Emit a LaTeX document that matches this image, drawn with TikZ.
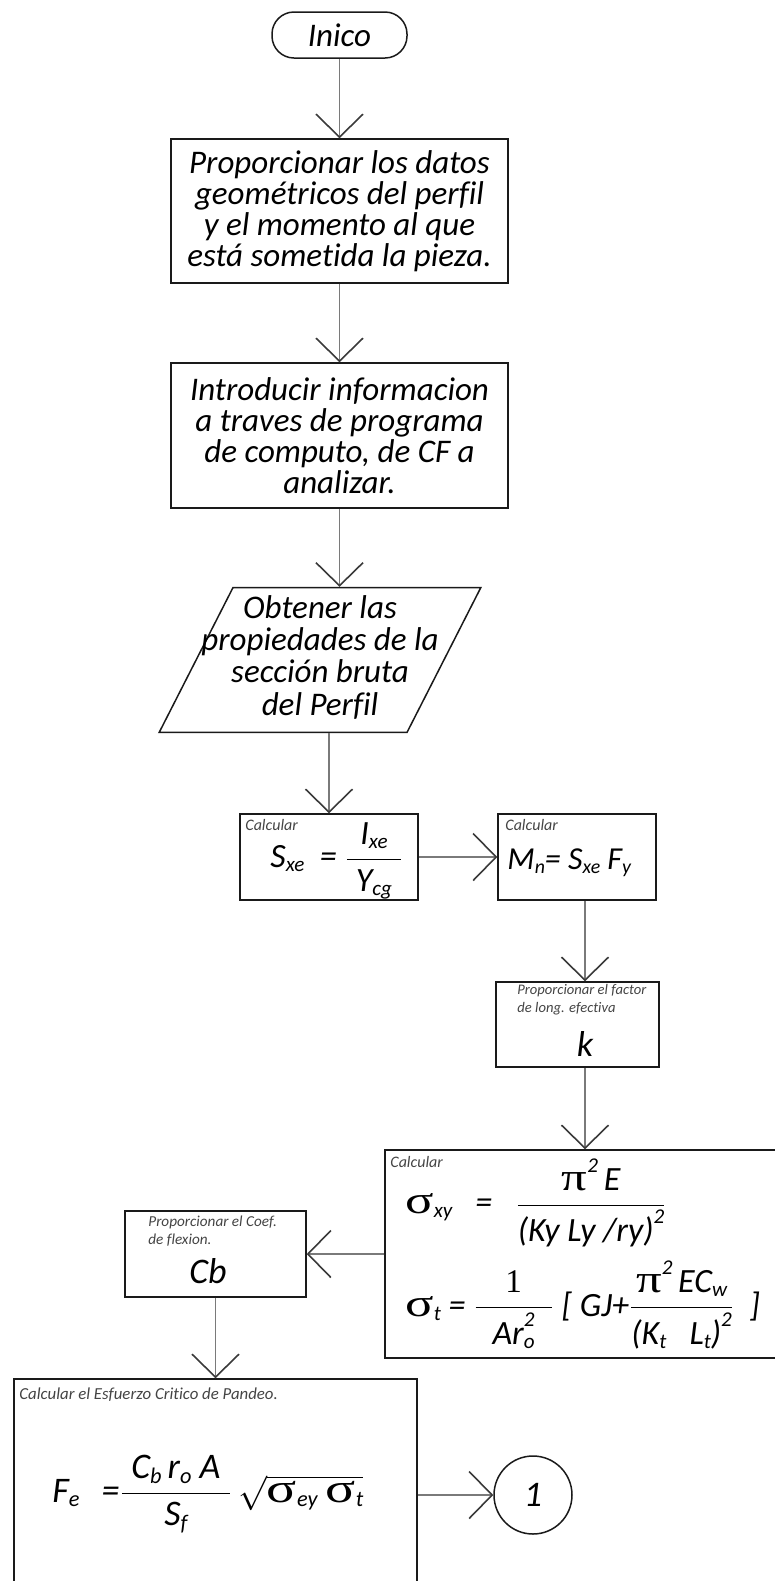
\documentclass[tikz,border=0pt]{standalone}
\usepackage{fontspec}
\usepackage{amsmath}
\usepackage{graphicx}
\setmainfont{Carlito}[Ligatures=NoCommon]
\newfontfamily\grk[Scale=1.15]{Liberation Serif}
\usetikzlibrary{arrows.meta,positioning,shapes.geometric,calc}
\definecolor{ink}{HTML}{1A1A1A}
\definecolor{shaft}{HTML}{7A7A7A}
\definecolor{barb}{HTML}{3A3A3A}
\definecolor{note}{HTML}{444444}
\newcommand{\lsub}[1]{\raisebox{-0.25ex}{\scalebox{0.62}{#1}}}
\newcommand{\lsup}[1]{\raisebox{1.1ex}{\scalebox{0.62}{#1}}}
\newcommand{\sig}{\mbox{\scalebox{1.35}[1]{\grk\upshape σ}}}
\newcommand{\piup}{\mbox{\scalebox{1.3}[1]{\grk\upshape π}}}
\tikzset{
  every node/.style={font=\itshape},
  box/.style={draw=ink, line width=0.75pt, align=center, inner sep=0pt, font=\itshape\fontsize{16.5}{15.5}\selectfont},
  startbox/.style={box, rounded corners=11pt},
  iobox/.style={box, trapezium, trapezium left angle=63, trapezium right angle=117, inner xsep=0pt, inner ysep=4pt},
  connector/.style={circle, draw=ink, line width=0.75pt, inner sep=0pt, minimum size=39pt, font=\itshape\fontsize{18}{18}\selectfont},
  smalllabel/.style={font=\itshape\fontsize{7.3}{9}\selectfont, align=left, inner sep=0pt, text=note},
  formula/.style={font=\itshape\fontsize{17}{20}\selectfont, inner sep=0pt},
  bigletter/.style={font=\itshape\fontsize{18}{20}\selectfont, inner sep=0pt},
  arrow/.style={-{Straight Barb[length=11.5pt,width=23.5pt,line width=0.8pt,color=barb]}, line width=0.8pt, draw=shaft},
}
\begin{document}
\begin{tikzpicture}[x=0.5pt,y=-0.5pt]
\useasboundingbox (0,0) rectangle (775,1581);
\clip (0,0) rectangle (775,1581);
% main column
\node[startbox, minimum width=67.5pt, minimum height=23pt] (inico) at (339.5,35) {Inico};
\node[box, minimum width=168.5pt, minimum height=72pt] (datos) at (339.5,211) {Proporcionar los datos\\geométricos del perfil\\y el momento al que\\está sometida la pieza.};
\node[box, minimum width=168.5pt, minimum height=72.5pt] (intro) at (339.5,435.5) {Introducir informacion\\a traves de programa\\de computo, de CF a\\analizar.};
\node[iobox] (props) at (320,660) {\makebox[87pt]{\begin{tabular}{@{}c@{}}Obtener las\\propiedades de la\\sección bruta\\del Perfil\end{tabular}}};
% Sxe and Mn
\node[box, minimum width=89pt, minimum height=43pt] (sxe) at (329,857) {};
\node[smalllabel, font=\itshape\fontsize{8}{9}\selectfont, anchor=west] (sxelab) at (245,825) {Calcular};
\node[formula, anchor=west] (sxef) at (270,861) {$\mbox{S\lsub{xe}\ \ =\ }\dfrac{\makebox[27pt]{I\lsub{xe}}}{\makebox[27pt]{Y\lsub{cg}}}$};
\node[box, minimum width=79pt, minimum height=43pt] (mn) at (577,857) {};
\node[smalllabel, font=\itshape\fontsize{8}{9}\selectfont, anchor=west] (mnlab) at (505,825) {Calcular};
\node[formula, font=\itshape\fontsize{16}{20}\selectfont, anchor=west] (mnf) at (507,863) {M\lsub{n}= S\lsub{xe}\ F\lsub{y}};
% k
\node[box, minimum width=81.5pt, minimum height=42.5pt] (kbox) at (577.5,1024.5) {};
\node[smalllabel, anchor=north west] (klab) at (517,984) {Proporcionar el factor\\de long. efectiva};
\node[bigletter] (kf) at (585,1044) {k};
% sigma box
\node[box, minimum width=202.5pt, minimum height=104pt] (sigbox) at (587.5,1254) {};
\node[smalllabel, font=\itshape\fontsize{8}{9}\selectfont, anchor=west] (siglab) at (390,1162) {Calcular};
\node[formula, anchor=west] (sxy) at (405,1203) {$\sig\lsub{xy}\ \ \ \mbox{=}\ \ \ \dfrac{\mbox{\piup\lsup{2}\,E}}{\mbox{(Ky Ly /ry)\lsup{2}}}$};
\node[formula, anchor=west] (st) at (405,1305) {$\sig\lsub{t}\mbox{ = }\dfrac{\mbox{\grk\upshape\Large 1}}{\makebox[38pt]{Ar\rlap{\lsup{2}}\lsub{o}}}\mbox{ [ GJ+}\dfrac{\mbox{\piup\lsup{2}\,EC\lsub{w}}}{\mbox{(K\lsub{t}\ \ \ L\lsub{t})\lsup{2}}}\mbox{\ \ ]}$};
% Cb
\node[box, minimum width=90.5pt, minimum height=43pt] (cb) at (215.5,1254) {};
\node[smalllabel, font=\itshape\fontsize{7.6}{9}\selectfont, anchor=north west] (cblab) at (148,1216) {Proporcionar el Coef.\\de flexion.};
\node[bigletter] (cbf) at (208,1271) {Cb};
% Fe
\node[box, minimum width=201.5pt, minimum height=110.5pt] (febox) at (215.5,1489.5) {};
\node[smalllabel, font=\itshape\fontsize{8.4}{9}\selectfont, anchor=west] (felab) at (19,1395) {Calcular el Esfuerzo Critico de Pandeo.};
\node[formula, font=\itshape\fontsize{18}{20}\selectfont, anchor=west] (fef) at (52,1494) {$\mbox{F\lsub{e}}\hspace{11pt}\mbox{=}\dfrac{\makebox[54pt]{C\lsub{b}\,r\lsub{o}\ A}}{\mbox{S\lsub{f}}}\,\sqrt{\mbox{\sig\lsub{ey}\ \sig\lsub{t}}}$};
\node[connector] (one) at (533,1495) {1};
% connectors
\draw[arrow] (inico) -- (datos);
\draw[arrow] (datos) -- (intro);
\draw[arrow] (intro.south) -- (intro.south |- props.north);
\draw[arrow] (sxe.north |- props.south) -- (sxe.north);
\draw[arrow] (sxe) -- (mn);
\draw[arrow] ([xshift=4pt]mn.south) -- ([xshift=4pt]mn.south |- kbox.north);
\draw[arrow] ([xshift=3.75pt]kbox.south) -- ([xshift=3.75pt]kbox.south |- sigbox.north);
\draw[arrow] (sigbox.west) -- (cb.east);
\draw[arrow] (cb) -- (febox);
\draw[arrow] (one.west -| febox.east) -- (one.west);
\end{tikzpicture}
\end{document}
